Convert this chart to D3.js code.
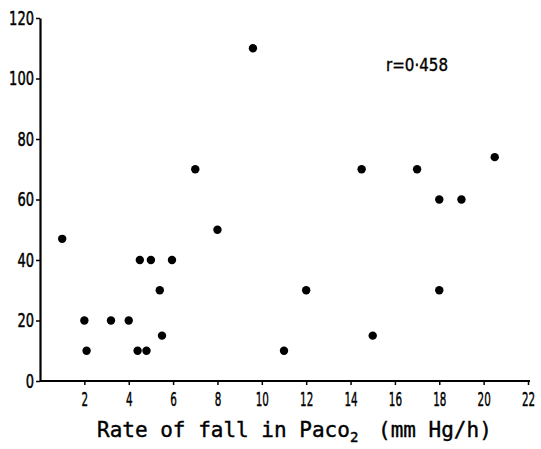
<!DOCTYPE html>
<html>
<head>
<meta charset="utf-8">
<script src="https://cdn.jsdelivr.net/npm/d3@7"></script>
<style>
  body { margin: 0; background: #fff; }
  svg { display: block; }
  .tick text { font-family: "DejaVu Sans", sans-serif; }
</style>
</head>
<body>
<svg id="chart" width="541" height="449"></svg>
<script>
// values
let rateOfFall = [1, 2, 2.1, 3.2, 4, 4.4, 4.8, 4.5, 5, 5.95, 5.4, 5.5, 8, 7, 9.6, 11, 12, 14.5, 15, 17, 18, 19, 18, 20.5];
let yValues = [47, 20, 10, 20, 20, 10, 10, 40, 40, 40, 30, 15, 50, 70, 110, 10, 30, 70, 15, 70, 60, 60, 30, 74];
let xTicks = [2, 4, 6, 8, 10, 12, 14, 16, 18, 20, 22];
let yTicks = [0, 20, 40, 60, 80, 100, 120];
let rLabel = "r=0\u00b7458";

let svg = d3.select("#chart");

let x = d3.scaleLinear().domain([0, 22]).range([40, 528]);
let y = d3.scaleLinear().domain([0, 120]).range([381, 18]);

// y axis
let gy = svg.append("g")
    .attr("transform", "translate(40,0)")
    .call(d3.axisLeft(y).tickValues(yTicks).tickSize(4).tickPadding(2).tickSizeOuter(0));
gy.select(".domain").attr("stroke", "#000").attr("stroke-width", 2.2);
gy.selectAll(".tick line").attr("stroke", "#000").attr("stroke-width", 1.5);
gy.selectAll(".tick text")
    .attr("font-size", 19).attr("fill", "#000")
    .attr("stroke", "#000").attr("stroke-width", 0.5)
    .attr("lengthAdjust", "spacingAndGlyphs")
    .attr("textLength", d => String(d).length * 8.3);

// x axis
let gx = svg.append("g")
    .attr("transform", "translate(0,381)")
    .call(d3.axisBottom(x).tickValues(xTicks).tickSize(4).tickPadding(7).tickSizeOuter(0));
gx.select(".domain").attr("stroke", "#000").attr("stroke-width", 2.2)
    .attr("d", "M40,0H530");
gx.selectAll(".tick line").attr("stroke", "#000").attr("stroke-width", 1.5);
gx.selectAll(".tick text")
    .attr("font-size", 20).attr("fill", "#000")
    .attr("stroke", "#000").attr("stroke-width", 0.5)
    .attr("lengthAdjust", "spacingAndGlyphs")
    .attr("textLength", d => String(d).length * 6.6);

// points
svg.append("g").selectAll("circle")
    .data(rateOfFall)
    .join("circle")
    .attr("cx", d => x(d))
    .attr("cy", (d, i) => y(yValues[i]))
    .attr("r", 4.2)
    .attr("fill", "#000");

// correlation label
svg.append("text")
    .attr("x", 386).attr("y", 71)
    .attr("font-family", "'DejaVu Sans', sans-serif")
    .attr("font-size", 17)
    .attr("stroke", "#000").attr("stroke-width", 0.4)
    .attr("lengthAdjust", "spacingAndGlyphs")
    .attr("textLength", 62)
    .text(rLabel);

// axis title
let title = svg.append("text")
    .attr("x", 97).attr("y", 437)
    .attr("font-family", "'DejaVu Sans Mono', monospace")
    .attr("font-size", 21)
    .attr("fill", "#000")
    .attr("stroke", "#000").attr("stroke-width", 0.4);
title.append("tspan").text("Rate of fall in Paco");
title.append("tspan").attr("font-size", 14).attr("dy", 5).text("2");
title.append("tspan").attr("x", 378).attr("dy", -5).text("(mm Hg/h)");
</script>
</body>
</html>
